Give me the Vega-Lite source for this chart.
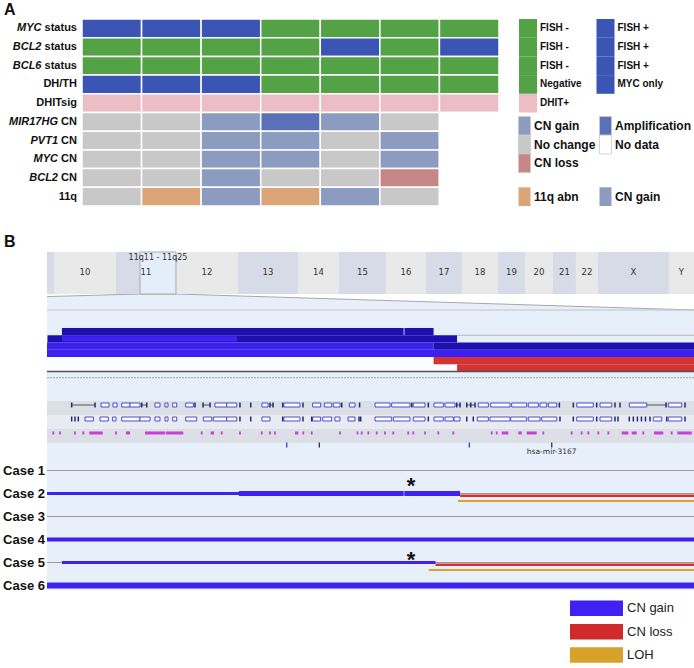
{
"$schema": "https://vega.github.io/schema/vega-lite/v6.json",
"width": 694, "height": 668,
"autosize": {"type": "fit", "contains": "padding"},
"padding": 0,
"background": "#ffffff",
"config": {"view": {"stroke": null}, "text": {"font": "Liberation Sans"}},
"resolve": {"scale": {"x": "independent", "y": "independent", "color": "independent", "size": "independent"}},
"datasets": {
"cells": [
{"row":"MYC status","case":"1","status":"FISH +"},{"row":"MYC status","case":"2","status":"FISH +"},{"row":"MYC status","case":"3","status":"FISH +"},{"row":"MYC status","case":"4","status":"FISH -"},{"row":"MYC status","case":"5","status":"FISH -"},{"row":"MYC status","case":"6","status":"FISH -"},{"row":"MYC status","case":"7","status":"FISH -"},
{"row":"BCL2 status","case":"1","status":"FISH -"},{"row":"BCL2 status","case":"2","status":"FISH -"},{"row":"BCL2 status","case":"3","status":"FISH -"},{"row":"BCL2 status","case":"4","status":"FISH -"},{"row":"BCL2 status","case":"5","status":"FISH +"},{"row":"BCL2 status","case":"6","status":"FISH -"},{"row":"BCL2 status","case":"7","status":"FISH +"},
{"row":"BCL6 status","case":"1","status":"FISH -"},{"row":"BCL6 status","case":"2","status":"FISH -"},{"row":"BCL6 status","case":"3","status":"FISH -"},{"row":"BCL6 status","case":"4","status":"FISH -"},{"row":"BCL6 status","case":"5","status":"FISH -"},{"row":"BCL6 status","case":"6","status":"FISH -"},{"row":"BCL6 status","case":"7","status":"FISH -"},
{"row":"DH/TH","case":"1","status":"MYC only"},{"row":"DH/TH","case":"2","status":"MYC only"},{"row":"DH/TH","case":"3","status":"MYC only"},{"row":"DH/TH","case":"4","status":"Negative"},{"row":"DH/TH","case":"5","status":"Negative"},{"row":"DH/TH","case":"6","status":"Negative"},{"row":"DH/TH","case":"7","status":"Negative"},
{"row":"DHITsig","case":"1","status":"DHIT+"},{"row":"DHITsig","case":"2","status":"DHIT+"},{"row":"DHITsig","case":"3","status":"DHIT+"},{"row":"DHITsig","case":"4","status":"DHIT+"},{"row":"DHITsig","case":"5","status":"DHIT+"},{"row":"DHITsig","case":"6","status":"DHIT+"},{"row":"DHITsig","case":"7","status":"DHIT+"},
{"row":"MIR17HG CN","case":"1","status":"No change"},{"row":"MIR17HG CN","case":"2","status":"No change"},{"row":"MIR17HG CN","case":"3","status":"CN gain"},{"row":"MIR17HG CN","case":"4","status":"Amplification"},{"row":"MIR17HG CN","case":"5","status":"CN gain"},{"row":"MIR17HG CN","case":"6","status":"No change"},{"row":"MIR17HG CN","case":"7","status":"No data"},
{"row":"PVT1 CN","case":"1","status":"No change"},{"row":"PVT1 CN","case":"2","status":"No change"},{"row":"PVT1 CN","case":"3","status":"CN gain"},{"row":"PVT1 CN","case":"4","status":"CN gain"},{"row":"PVT1 CN","case":"5","status":"No change"},{"row":"PVT1 CN","case":"6","status":"CN gain"},{"row":"PVT1 CN","case":"7","status":"No data"},
{"row":"MYC CN","case":"1","status":"No change"},{"row":"MYC CN","case":"2","status":"No change"},{"row":"MYC CN","case":"3","status":"CN gain"},{"row":"MYC CN","case":"4","status":"CN gain"},{"row":"MYC CN","case":"5","status":"No change"},{"row":"MYC CN","case":"6","status":"CN gain"},{"row":"MYC CN","case":"7","status":"No data"},
{"row":"BCL2 CN","case":"1","status":"No change"},{"row":"BCL2 CN","case":"2","status":"No change"},{"row":"BCL2 CN","case":"3","status":"CN gain"},{"row":"BCL2 CN","case":"4","status":"No change"},{"row":"BCL2 CN","case":"5","status":"No change"},{"row":"BCL2 CN","case":"6","status":"CN loss"},{"row":"BCL2 CN","case":"7","status":"No data"},
{"row":"11q","case":"1","status":"No change"},{"row":"11q","case":"2","status":"11q abn"},{"row":"11q","case":"3","status":"CN gain"},{"row":"11q","case":"4","status":"11q abn"},{"row":"11q","case":"5","status":"CN gain"},{"row":"11q","case":"6","status":"No change"},{"row":"11q","case":"7","status":"No data"}
],
"rowlabels": [
{"row":"MYC status","gene":"MYC","suffix":"status"},{"row":"BCL2 status","gene":"BCL2","suffix":"status"},{"row":"BCL6 status","gene":"BCL6","suffix":"status"},{"row":"DH/TH","gene":"","suffix":"DH/TH"},{"row":"DHITsig","gene":"","suffix":"DHITsig"},{"row":"MIR17HG CN","gene":"MIR17HG","suffix":"CN"},{"row":"PVT1 CN","gene":"PVT1","suffix":"CN"},{"row":"MYC CN","gene":"MYC","suffix":"CN"},{"row":"BCL2 CN","gene":"BCL2","suffix":"CN"},{"row":"11q","gene":"","suffix":"11q"}
],
"legA": [
{"row":"MYC status","side":"left","label":"FISH -","status":"FISH -","grp":"fish"},{"row":"MYC status","side":"right","label":"FISH +","status":"FISH +","grp":"fish"},
{"row":"BCL2 status","side":"left","label":"FISH -","status":"FISH -","grp":"fish"},{"row":"BCL2 status","side":"right","label":"FISH +","status":"FISH +","grp":"fish"},
{"row":"BCL6 status","side":"left","label":"FISH -","status":"FISH -","grp":"fish"},{"row":"BCL6 status","side":"right","label":"FISH +","status":"FISH +","grp":"fish"},
{"row":"DH/TH","side":"left","label":"Negative","status":"Negative","grp":"fish"},{"row":"DH/TH","side":"right","label":"MYC only","status":"MYC only","grp":"fish"},
{"row":"DHITsig","side":"left","label":"DHIT+","status":"DHIT+","grp":"fish"},
{"row":"MIR17HG CN","side":"left","label":"CN gain","status":"CN gain","grp":"cn"},{"row":"MIR17HG CN","side":"right","label":"Amplification","status":"Amplification","grp":"cn"},
{"row":"PVT1 CN","side":"left","label":"No change","status":"No change","grp":"cn"},{"row":"PVT1 CN","side":"right","label":"No data","status":"No data","grp":"cn"},
{"row":"MYC CN","side":"left","label":"CN loss","status":"CN loss","grp":"cn"},
{"row":"11q","side":"left","label":"11q abn","status":"11q abn","grp":"q11"},{"row":"11q","side":"right","label":"CN gain","status":"CN gain","grp":"q11"}
],
"chroms": [
{"chrom":"9","start":0,"end":15.4,"tone":"b"},{"chrom":"10","start":15.4,"end":151.9,"tone":"a"},{"chrom":"11","start":151.9,"end":283.9,"tone":"b"},{"chrom":"12","start":283.9,"end":420.3,"tone":"a"},{"chrom":"13","start":420.3,"end":552.4,"tone":"b"},{"chrom":"14","start":552.4,"end":642.6,"tone":"a"},{"chrom":"15","start":642.6,"end":746.0,"tone":"b"},{"chrom":"16","start":746.0,"end":834.1,"tone":"a"},{"chrom":"17","start":834.1,"end":913.3,"tone":"b"},{"chrom":"18","start":913.3,"end":992.5,"tone":"a"},{"chrom":"19","start":992.5,"end":1051.9,"tone":"b"},{"chrom":"20","start":1051.9,"end":1113.6,"tone":"a"},{"chrom":"21","start":1113.6,"end":1164.2,"tone":"b"},{"chrom":"22","start":1164.2,"end":1212.6,"tone":"a"},{"chrom":"X","start":1212.6,"end":1368.8,"tone":"b"},{"chrom":"Y","start":1368.8,"end":1424,"tone":"a"}
],
"selection": [{"name":"11q11 - 11q25","start":204.7,"end":283.9}],
"funnel": [{"gpos":0,"edge":0.16},{"gpos":204.7,"edge":0},{"gpos":283.9,"edge":0},{"gpos":1424,"edge":1}],
"zoomview": [{"view":"11q11-11q25","start":55,"end":135}],
"freq": [
{"case":"Case 6","start":55,"end":135,"lo":0,"hi":1,"tone":"bright"},
{"case":"Case 4","start":55,"end":102.8,"lo":1,"hi":2,"tone":"bright"},
{"case":"Case 4","start":102.8,"end":135,"lo":1,"hi":2,"tone":"dark"},
{"case":"Case 2","start":55.06,"end":105.7,"lo":2,"hi":3,"tone":"dark"},
{"case":"Case 2","start":56.85,"end":78.49,"lo":2.15,"hi":2.85,"tone":"bright"},
{"case":"Case 5","start":56.85,"end":99.1,"lo":3,"hi":4,"tone":"dark"},
{"case":"Case 5","start":99.2,"end":102.8,"lo":3,"hi":4,"tone":"dark"},
{"case":"Case 5","start":102.8,"end":135,"lo":0,"hi":-1,"tone":"loss"},
{"case":"Case 2","start":105.7,"end":135,"lo":-1,"hi":-2,"tone":"loss"}
],
"genebg": [{"track":"RefSeq","shade":"dark"},{"track":"Ensembl","shade":"light"},{"track":"CNV","shade":"dark"}],
"genes": [
{"track":"RefSeq","kind":"intron","start":58.05,"end":60.94},{"track":"RefSeq","kind":"tick","start":58.05},{"track":"RefSeq","kind":"tick","start":60.94},
{"track":"RefSeq","kind":"box","start":61.68,"end":62.67},{"track":"RefSeq","kind":"box","start":63.16,"end":63.66},{"track":"RefSeq","kind":"box","start":64.24,"end":65.26},{"track":"RefSeq","kind":"box","start":65.26,"end":66.5},
{"track":"RefSeq","kind":"tick","start":66.71},{"track":"RefSeq","kind":"intron","start":66.71,"end":67.33},{"track":"RefSeq","kind":"tick","start":67.33},
{"track":"RefSeq","kind":"box","start":68.35,"end":68.97},{"track":"RefSeq","kind":"box","start":69.59,"end":69.96},{"track":"RefSeq","kind":"box","start":70.54,"end":71.04},{"track":"RefSeq","kind":"box","start":72.15,"end":73.09},{"track":"RefSeq","kind":"tick","start":73.3},
{"track":"RefSeq","kind":"tick","start":74.29},{"track":"RefSeq","kind":"intron","start":74.29,"end":75.16},{"track":"RefSeq","kind":"tick","start":75.16},
{"track":"RefSeq","kind":"box","start":75.77,"end":77.22},{"track":"RefSeq","kind":"box","start":77.22,"end":78.46},{"track":"RefSeq","kind":"tick","start":78.86},{"track":"RefSeq","kind":"tick","start":80.19},
{"track":"RefSeq","kind":"box","start":81.58,"end":82.33},{"track":"RefSeq","kind":"tick","start":82.57},{"track":"RefSeq","kind":"intron","start":82.57,"end":82.95},{"track":"RefSeq","kind":"tick","start":82.95},
{"track":"RefSeq","kind":"tick","start":84.14},{"track":"RefSeq","kind":"box","start":84.3,"end":86.28},{"track":"RefSeq","kind":"tick","start":86.65},
{"track":"RefSeq","kind":"box","start":87.85,"end":88.84},{"track":"RefSeq","kind":"box","start":89.29,"end":90.2},{"track":"RefSeq","kind":"box","start":90.4,"end":91.23},{"track":"RefSeq","kind":"tick","start":91.44},
{"track":"RefSeq","kind":"box","start":92.38,"end":93.08},{"track":"RefSeq","kind":"tick","start":93.65},
{"track":"RefSeq","kind":"box","start":95.56,"end":97.41},{"track":"RefSeq","kind":"box","start":97.62,"end":99.88},{"track":"RefSeq","kind":"tick","start":100.1},{"track":"RefSeq","kind":"box","start":100.29,"end":101.74},{"track":"RefSeq","kind":"tick","start":102.15},
{"track":"RefSeq","kind":"box","start":102.85,"end":104.0},{"track":"RefSeq","kind":"box","start":104.21,"end":105.45},{"track":"RefSeq","kind":"tick","start":105.66},{"track":"RefSeq","kind":"intron","start":105.66,"end":106.07},{"track":"RefSeq","kind":"tick","start":106.07},
{"track":"RefSeq","kind":"tick","start":106.9},{"track":"RefSeq","kind":"intron","start":106.9,"end":107.92},{"track":"RefSeq","kind":"tick","start":107.4},{"track":"RefSeq","kind":"tick","start":107.92},
{"track":"RefSeq","kind":"box","start":108.33,"end":109.57},{"track":"RefSeq","kind":"box","start":109.86,"end":112.25},{"track":"RefSeq","kind":"box","start":112.46,"end":114.31},{"track":"RefSeq","kind":"box","start":114.51,"end":115.75},{"track":"RefSeq","kind":"box","start":115.96,"end":116.79},{"track":"RefSeq","kind":"box","start":116.99,"end":118.03},{"track":"RefSeq","kind":"tick","start":118.35},
{"track":"RefSeq","kind":"tick","start":120.08},{"track":"RefSeq","kind":"box","start":120.5,"end":122.55},{"track":"RefSeq","kind":"tick","start":122.97},{"track":"RefSeq","kind":"box","start":123.38,"end":124.83},{"track":"RefSeq","kind":"tick","start":125.23},{"track":"RefSeq","kind":"tick","start":125.85},
{"track":"RefSeq","kind":"box","start":127.0,"end":129.15},{"track":"RefSeq","kind":"intron","start":129.15,"end":131.54},{"track":"RefSeq","kind":"tick","start":131.54},{"track":"RefSeq","kind":"box","start":131.82,"end":133.48},{"track":"RefSeq","kind":"tick","start":133.89},
{"track":"Ensembl","kind":"tick","start":58.05},{"track":"Ensembl","kind":"tick","start":58.46},{"track":"Ensembl","kind":"tick","start":58.87},{"track":"Ensembl","kind":"box","start":59.7,"end":60.73},
{"track":"Ensembl","kind":"box","start":61.55,"end":62.58},{"track":"Ensembl","kind":"box","start":63.12,"end":63.53},{"track":"Ensembl","kind":"box","start":64.24,"end":66.5},{"track":"Ensembl","kind":"box","start":66.5,"end":67.74},
{"track":"Ensembl","kind":"box","start":68.35,"end":68.97},{"track":"Ensembl","kind":"box","start":69.59,"end":69.96},{"track":"Ensembl","kind":"box","start":70.54,"end":71.04},{"track":"Ensembl","kind":"box","start":72.15,"end":73.51},{"track":"Ensembl","kind":"box","start":74.33,"end":75.37},
{"track":"Ensembl","kind":"box","start":75.56,"end":77.22},{"track":"Ensembl","kind":"box","start":77.22,"end":78.46},{"track":"Ensembl","kind":"tick","start":78.86},{"track":"Ensembl","kind":"tick","start":80.19},{"track":"Ensembl","kind":"box","start":81.58,"end":82.57},
{"track":"Ensembl","kind":"tick","start":84.14},{"track":"Ensembl","kind":"box","start":84.3,"end":86.28},{"track":"Ensembl","kind":"tick","start":86.65},{"track":"Ensembl","kind":"tick","start":87.73},{"track":"Ensembl","kind":"box","start":87.85,"end":88.84},{"track":"Ensembl","kind":"box","start":89.1,"end":90.2},{"track":"Ensembl","kind":"box","start":90.6,"end":91.23},
{"track":"Ensembl","kind":"box","start":92.22,"end":93.08},{"track":"Ensembl","kind":"tick","start":93.58},{"track":"Ensembl","kind":"tick","start":93.79},
{"track":"Ensembl","kind":"box","start":95.56,"end":97.62},{"track":"Ensembl","kind":"box","start":97.82,"end":99.88},{"track":"Ensembl","kind":"box","start":100.29,"end":101.74},{"track":"Ensembl","kind":"tick","start":102.15},
{"track":"Ensembl","kind":"box","start":102.85,"end":104.0},{"track":"Ensembl","kind":"box","start":104.21,"end":105.24},{"track":"Ensembl","kind":"box","start":105.33,"end":106.07},
{"track":"Ensembl","kind":"tick","start":106.9},{"track":"Ensembl","kind":"tick","start":107.71},{"track":"Ensembl","kind":"box","start":108.21,"end":109.57},{"track":"Ensembl","kind":"box","start":109.78,"end":112.25},{"track":"Ensembl","kind":"box","start":112.34,"end":114.31},{"track":"Ensembl","kind":"box","start":114.51,"end":115.96},{"track":"Ensembl","kind":"box","start":116.17,"end":118.03},{"track":"Ensembl","kind":"tick","start":118.43},
{"track":"Ensembl","kind":"tick","start":120.08},{"track":"Ensembl","kind":"box","start":120.5,"end":122.55},{"track":"Ensembl","kind":"tick","start":122.97},{"track":"Ensembl","kind":"box","start":123.38,"end":124.83},{"track":"Ensembl","kind":"tick","start":125.23},{"track":"Ensembl","kind":"tick","start":125.6},
{"track":"Ensembl","kind":"tick","start":127.0},{"track":"Ensembl","kind":"tick","start":127.5},{"track":"Ensembl","kind":"tick","start":128.0},{"track":"Ensembl","kind":"tick","start":128.5},{"track":"Ensembl","kind":"tick","start":129.0},{"track":"Ensembl","kind":"tick","start":129.56},
{"track":"Ensembl","kind":"box","start":129.97,"end":131.01},{"track":"Ensembl","kind":"tick","start":131.63},{"track":"Ensembl","kind":"box","start":131.82,"end":133.48},{"track":"Ensembl","kind":"tick","start":133.89},
{"track":"CNV","kind":"dot","start":55.78},{"track":"CNV","kind":"dot","start":56.61},{"track":"CNV","kind":"dot","start":58.46},{"track":"CNV","kind":"dot","start":59.49},{"track":"CNV","kind":"seg","start":60.23,"end":61.89},{"track":"CNV","kind":"dot","start":63.53},{"track":"CNV","kind":"seg","start":64.77,"end":65.26},
{"track":"CNV","kind":"seg","start":67.12,"end":69.6},{"track":"CNV","kind":"seg","start":69.7,"end":71.85},{"track":"CNV","kind":"dot","start":74.13},{"track":"CNV","kind":"seg","start":75.24,"end":75.65},{"track":"CNV","kind":"dot","start":76.6},{"track":"CNV","kind":"dot","start":78.86},
{"track":"CNV","kind":"dot","start":81.55},{"track":"CNV","kind":"dot","start":82.57},{"track":"CNV","kind":"dot","start":83.19},{"track":"CNV","kind":"seg","start":85.67,"end":86.07},{"track":"CNV","kind":"dot","start":86.69},{"track":"CNV","kind":"dot","start":87.73},{"track":"CNV","kind":"dot","start":91.23},
{"track":"CNV","kind":"seg","start":93.29,"end":93.5},{"track":"CNV","kind":"dot","start":93.91},{"track":"CNV","kind":"dot","start":94.73},{"track":"CNV","kind":"dot","start":95.77},{"track":"CNV","kind":"dot","start":96.79},{"track":"CNV","kind":"dot","start":97.82},{"track":"CNV","kind":"dot","start":99.67},{"track":"CNV","kind":"dot","start":100.29},{"track":"CNV","kind":"dot","start":101.74},{"track":"CNV","kind":"dot","start":103.38},{"track":"CNV","kind":"dot","start":105.24},
{"track":"CNV","kind":"dot","start":109.99},{"track":"CNV","kind":"dot","start":110.61},{"track":"CNV","kind":"seg","start":111.23,"end":112.04},{"track":"CNV","kind":"seg","start":113.28,"end":113.7},{"track":"CNV","kind":"seg","start":114.31,"end":115.55},{"track":"CNV","kind":"dot","start":116.37},
{"track":"CNV","kind":"dot","start":119.88},{"track":"CNV","kind":"dot","start":121.11},{"track":"CNV","kind":"dot","start":121.93},{"track":"CNV","kind":"dot","start":123.17},{"track":"CNV","kind":"dot","start":124.41},{"track":"CNV","kind":"seg","start":126.06,"end":126.88},{"track":"CNV","kind":"seg","start":127.3,"end":127.92},{"track":"CNV","kind":"dot","start":128.73},{"track":"CNV","kind":"seg","start":130.06,"end":131.2},{"track":"CNV","kind":"dot","start":132.24},{"track":"CNV","kind":"seg","start":132.94,"end":134.72}
],
"mirna": [{"track":"miRNA","pos":84.64,"kind":"blue","name":""},{"track":"miRNA","pos":88.67,"kind":"dark","name":""},{"track":"miRNA","pos":107.22,"kind":"blue","name":""},{"track":"miRNA","pos":117.41,"kind":"dark","name":"hsa-mir-3167"}],
"cases": [{"case":"Case 1"},{"case":"Case 2"},{"case":"Case 3"},{"case":"Case 4"},{"case":"Case 5"},{"case":"Case 6"}],
"segments": [
{"case":"Case 2","type":"gain","start":55.0,"end":78.74,"copies":3},
{"case":"Case 2","type":"gain","start":78.74,"end":99.1,"copies":5},
{"case":"Case 2","type":"gain","start":99.18,"end":106.07,"copies":5},
{"case":"Case 2","type":"loss","start":106.07,"end":135},
{"case":"Case 2","type":"LOH","start":105.8,"end":135},
{"case":"Case 4","type":"gain","start":55,"end":135,"copies":4},
{"case":"Case 5","type":"gain","start":56.85,"end":103.04,"copies":3},
{"case":"Case 5","type":"loss","start":103.04,"end":135},
{"case":"Case 5","type":"LOH","start":102.2,"end":135},
{"case":"Case 6","type":"gain","start":55,"end":135,"copies":6}
],
"asterisks": [{"case":"Case 2","pos":100.0},{"case":"Case 5","pos":100.0}],
"legB": [{"item":"CN gain"},{"item":"CN loss"},{"item":"LOH"}],
"panels": [{"panel":"A"},{"panel":"B"}]
},
"layer": [
{"data":{"name":"zoomview"},"mark":{"type":"rect","fill":"#e7effa"},
 "encoding":{"x":{"field":"start","type":"quantitative","scale":{"domain":[55,135],"range":[47,694],"nice":false},"axis":null},"x2":{"field":"end"},
 "y":{"field":"view","type":"nominal","scale":{"type":"band","domain":["11q11-11q25"],"range":[310,590],"paddingInner":0,"paddingOuter":0},"axis":null}}},
{"data":{"name":"funnel"},"mark":{"type":"area","fill":"#e7effa"},
 "encoding":{"x":{"field":"gpos","type":"quantitative","scale":{"domain":[0,1424],"range":[47,694],"nice":false},"axis":null},
 "y":{"field":"edge","type":"quantitative","scale":{"domain":[0,1],"range":[294,310],"nice":false},"axis":null},"y2":{"datum":1}}},
{"data":{"name":"funnel"},"mark":{"type":"line","stroke":"#a8a8a8","strokeWidth":1},
 "encoding":{"x":{"field":"gpos","type":"quantitative","scale":{"domain":[0,1424],"range":[47,694],"nice":false},"axis":null},
 "y":{"field":"edge","type":"quantitative","scale":{"domain":[0,1],"range":[294,310],"nice":false},"axis":null}}},
{"data":{"values":[{}]},"mark":{"type":"rule","stroke":"#c4c4c4","strokeWidth":1},
 "encoding":{"x":{"datum":0,"type":"quantitative","scale":{"domain":[0,1424],"range":[47,694],"nice":false},"axis":null},"x2":{"datum":1424},
 "y":{"datum":1,"type":"quantitative","scale":{"domain":[0,1],"range":[294,310],"nice":false},"axis":null}}},
{"data":{"name":"chroms"},"mark":{"type":"rect"},
 "encoding":{"x":{"field":"start","type":"quantitative","scale":{"domain":[0,1424],"range":[47,694],"nice":false},"axis":null},"x2":{"field":"end"},
 "y":{"datum":"genome","type":"nominal","scale":{"type":"band","domain":["genome"],"range":[252,294],"paddingInner":0,"paddingOuter":0},"axis":null},
 "color":{"field":"tone","type":"nominal","scale":{"domain":["a","b"],"range":["#e9e9e9","#d6dbe7"]},"legend":null}}},
{"data":{"name":"selection"},"mark":{"type":"rect","fill":"#e4eefb","stroke":"#aaaaaa","strokeWidth":1},
 "encoding":{"x":{"field":"start","type":"quantitative","scale":{"domain":[0,1424],"range":[47,694],"nice":false},"axis":null},"x2":{"field":"end"},
 "y":{"datum":"genome","type":"nominal","scale":{"type":"band","domain":["genome"],"range":[252,294],"paddingInner":0,"paddingOuter":0},"axis":null}}},
{"data":{"name":"chroms"},"transform":[{"filter":"datum.chrom != '9'"},{"fold":["start","end"],"as":["edge","pos"]}],
 "mark":{"type":"text","font":"DejaVu Sans","fontSize":8.5,"fill":"#333333","baseline":"middle","align":"center","dy":-1},
 "encoding":{"x":{"aggregate":"mean","field":"pos","type":"quantitative","scale":{"domain":[0,1424],"range":[47,694],"nice":false},"axis":null},
 "y":{"datum":"genome","type":"nominal","scale":{"type":"band","domain":["genome"],"range":[252,294],"paddingInner":0,"paddingOuter":0},"axis":null},
 "text":{"field":"chrom","type":"nominal"}}},
{"data":{"name":"selection"},"transform":[{"fold":["start","end"],"as":["edge","pos"]}],
 "mark":{"type":"text","font":"DejaVu Sans","fontSize":8,"fill":"#333333","baseline":"middle","align":"center","dy":-15},
 "encoding":{"x":{"aggregate":"mean","field":"pos","type":"quantitative","scale":{"domain":[0,1424],"range":[47,694],"nice":false},"axis":null},
 "y":{"datum":"genome","type":"nominal","scale":{"type":"band","domain":["genome"],"range":[252,294],"paddingInner":0,"paddingOuter":0},"axis":null},
 "text":{"field":"name","type":"nominal"}}},
{"data":{"values":[{}]},"mark":{"type":"rect","fill":"#fafcff"},
 "encoding":{"x":{"datum":55,"type":"quantitative","scale":{"domain":[55,135],"range":[47,694],"nice":false},"axis":null},"x2":{"datum":135},
 "y":{"datum":0,"type":"quantitative","scale":{"domain":[-2,4],"range":[371.5,328],"nice":false},"axis":null},"y2":{"datum":-2}}},
{"data":{"name":"freq"},"mark":{"type":"rect"},
 "encoding":{"x":{"field":"start","type":"quantitative","scale":{"domain":[55,135],"range":[47,694],"nice":false},"axis":null},"x2":{"field":"end"},
 "y":{"field":"lo","type":"quantitative","scale":{"domain":[-2,4],"range":[371.5,328],"nice":false},"axis":null},"y2":{"field":"hi"},
 "color":{"field":"tone","type":"nominal","scale":{"domain":["bright","dark","loss"],"range":["#3b22f0","#1e10b0","#d33333"]},"legend":null}}},
{"data":{"values":[{}]},"mark":{"type":"rule","stroke":"#b5b5b5","strokeWidth":1},
 "encoding":{"x":{"datum":105.7,"type":"quantitative","scale":{"domain":[55,135],"range":[47,694],"nice":false},"axis":null},"x2":{"datum":135},
 "y":{"datum":3,"type":"quantitative","scale":{"domain":[-2,4],"range":[371.5,328],"nice":false},"axis":null}}},
{"data":{"values":[{}]},"mark":{"type":"rule","stroke":"#505050","strokeWidth":1.6},
 "encoding":{"x":{"datum":55,"type":"quantitative","scale":{"domain":[55,135],"range":[47,694],"nice":false},"axis":null},"x2":{"datum":135},
 "y":{"datum":-2,"type":"quantitative","scale":{"domain":[-2,4],"range":[371.5,328],"nice":false},"axis":null}}},
{"data":{"values":[{}]},"mark":{"type":"rule","stroke":"#a0a0a0","strokeWidth":1,"strokeDash":[2,1]},
 "encoding":{"x":{"datum":55,"type":"quantitative","scale":{"domain":[55,135],"range":[47,694],"nice":false},"axis":null},"x2":{"datum":135},
 "y":{"datum":-2.86,"type":"quantitative","scale":{"domain":[-2,4],"range":[371.5,328],"nice":false},"axis":null}}},
{"data":{"name":"genebg"},"mark":{"type":"rect"},
 "encoding":{"x":{"datum":55,"type":"quantitative","scale":{"domain":[55,135],"range":[47,694],"nice":false},"axis":null},"x2":{"datum":135},
 "y":{"field":"track","type":"nominal","scale":{"type":"band","domain":["RefSeq","Ensembl","CNV"],"range":[401,443],"paddingInner":0,"paddingOuter":0},"axis":null},
 "color":{"field":"shade","type":"nominal","scale":{"domain":["dark","light"],"range":["#dcdfe5","#e8ecf2"]},"legend":null}}},
{"data":{"name":"genes"},"transform":[{"filter":"datum.kind == 'intron'"}],"mark":{"type":"rule","stroke":"#555555","strokeWidth":1},
 "encoding":{"x":{"field":"start","type":"quantitative","scale":{"domain":[55,135],"range":[47,694],"nice":false},"axis":null},"x2":{"field":"end"},
 "y":{"field":"track","type":"nominal","scale":{"type":"band","domain":["RefSeq","Ensembl","CNV"],"range":[398,440],"paddingInner":0,"paddingOuter":0},"axis":null}}},
{"data":{"name":"genes"},"transform":[{"filter":"datum.kind == 'box'"}],"mark":{"type":"bar","height":4,"fill":"#ffffff","stroke":"#4a4ad4","strokeWidth":1},
 "encoding":{"x":{"field":"start","type":"quantitative","scale":{"domain":[55,135],"range":[47,694],"nice":false},"axis":null},"x2":{"field":"end"},
 "y":{"field":"track","type":"nominal","scale":{"type":"band","domain":["RefSeq","Ensembl","CNV"],"range":[398,440],"paddingInner":0,"paddingOuter":0},"axis":null}}},
{"data":{"name":"genes"},"transform":[{"filter":"datum.kind == 'tick'"}],"mark":{"type":"tick","size":5,"thickness":1.5,"color":"#27277a","opacity":1},
 "encoding":{"x":{"field":"start","type":"quantitative","scale":{"domain":[55,135],"range":[47,694],"nice":false},"axis":null},
 "y":{"field":"track","type":"nominal","scale":{"type":"band","domain":["RefSeq","Ensembl","CNV"],"range":[398,440],"paddingInner":0,"paddingOuter":0},"axis":null}}},
{"data":{"name":"genes"},"transform":[{"filter":"datum.kind == 'seg'"}],"mark":{"type":"bar","height":3,"fill":"#c93fd8"},
 "encoding":{"x":{"field":"start","type":"quantitative","scale":{"domain":[55,135],"range":[47,694],"nice":false},"axis":null},"x2":{"field":"end"},
 "y":{"field":"track","type":"nominal","scale":{"type":"band","domain":["RefSeq","Ensembl","CNV"],"range":[398,440],"paddingInner":0,"paddingOuter":0},"axis":null}}},
{"data":{"name":"genes"},"transform":[{"filter":"datum.kind == 'dot'"}],"mark":{"type":"tick","size":3,"thickness":1.8,"color":"#c93fd8","opacity":1},
 "encoding":{"x":{"field":"start","type":"quantitative","scale":{"domain":[55,135],"range":[47,694],"nice":false},"axis":null},
 "y":{"field":"track","type":"nominal","scale":{"type":"band","domain":["RefSeq","Ensembl","CNV"],"range":[398,440],"paddingInner":0,"paddingOuter":0},"axis":null}}},
{"data":{"name":"mirna"},"mark":{"type":"tick","size":5,"thickness":1.3,"opacity":1},
 "encoding":{"x":{"field":"pos","type":"quantitative","scale":{"domain":[55,135],"range":[47,694],"nice":false},"axis":null},
 "y":{"field":"track","type":"nominal","scale":{"type":"band","domain":["miRNA"],"range":[440,450],"paddingInner":0,"paddingOuter":0},"axis":null},
 "color":{"field":"kind","type":"nominal","scale":{"domain":["blue","dark"],"range":["#3a3ad0","#333333"]},"legend":null}}},
{"data":{"name":"mirna"},"transform":[{"filter":"datum.name != ''"}],"mark":{"type":"text","font":"DejaVu Sans","fontSize":7.5,"fill":"#333333","baseline":"middle","align":"center"},
 "encoding":{"x":{"field":"pos","type":"quantitative","scale":{"domain":[55,135],"range":[47,694],"nice":false},"axis":null},
 "y":{"field":"track","type":"nominal","scale":{"type":"band","domain":["miRNA"],"range":[447,457],"paddingInner":0,"paddingOuter":0},"axis":null},
 "text":{"field":"name","type":"nominal"}}},
{"data":{"name":"cases"},"mark":{"type":"rule","stroke":"#9a9a9a","strokeWidth":1},
 "encoding":{"x":{"datum":55,"type":"quantitative","scale":{"domain":[55,135],"range":[47,694],"nice":false},"axis":null},"x2":{"datum":135},
 "y":{"field":"case","type":"nominal","scale":{"type":"point","domain":["Case 1","Case 2","Case 3","Case 4","Case 5","Case 6"],"range":[470.5,585.5],"padding":0},"axis":null}}},
{"data":{"name":"segments"},"transform":[{"filter":"datum.type == 'gain'"}],"mark":{"type":"rule","stroke":"#3d22f2","strokeCap":"butt"},
 "encoding":{"x":{"field":"start","type":"quantitative","scale":{"domain":[55,135],"range":[47,694],"nice":false},"axis":null},"x2":{"field":"end"},
 "y":{"field":"case","type":"nominal","scale":{"type":"point","domain":["Case 1","Case 2","Case 3","Case 4","Case 5","Case 6"],"range":[470.5,585.5],"padding":0},"axis":null},
 "size":{"field":"copies","type":"quantitative","scale":{"domain":[0,6],"range":[0,6]},"legend":null}}},
{"data":{"name":"segments"},"transform":[{"filter":"datum.type == 'loss'"}],"mark":{"type":"rule","stroke":"#d43232","strokeWidth":2.5,"strokeCap":"butt"},
 "encoding":{"x":{"field":"start","type":"quantitative","scale":{"domain":[55,135],"range":[47,694],"nice":false},"axis":null},"x2":{"field":"end"},
 "y":{"field":"case","type":"nominal","scale":{"type":"point","domain":["Case 1","Case 2","Case 3","Case 4","Case 5","Case 6"],"range":[472.8,587.8],"padding":0},"axis":null}}},
{"data":{"name":"segments"},"transform":[{"filter":"datum.type == 'LOH'"}],"mark":{"type":"rule","stroke":"#d9a62c","strokeWidth":2,"strokeCap":"butt"},
 "encoding":{"x":{"field":"start","type":"quantitative","scale":{"domain":[55,135],"range":[47,694],"nice":false},"axis":null},"x2":{"field":"end"},
 "y":{"field":"case","type":"nominal","scale":{"type":"point","domain":["Case 1","Case 2","Case 3","Case 4","Case 5","Case 6"],"range":[478,593],"padding":0},"axis":null}}},
{"data":{"name":"asterisks"},"mark":{"type":"text","text":"*","font":"Liberation Sans","fontWeight":"bold","fontSize":22,"fill":"#111111","baseline":"alphabetic","align":"center","dy":11.5},
 "encoding":{"x":{"field":"pos","type":"quantitative","scale":{"domain":[55,135],"range":[47,694],"nice":false},"axis":null},
 "y":{"field":"case","type":"nominal","scale":{"type":"point","domain":["Case 2","Case 5"],"range":[481,555],"padding":0},"axis":null}}},
{"data":{"name":"cases"},"mark":{"type":"text","font":"Liberation Sans","fontWeight":"bold","fontSize":13,"fill":"#111111","baseline":"middle","align":"right"},
 "encoding":{"x":{"field":"case","type":"nominal","scale":{"type":"point","range":[45,45]},"axis":null},
 "y":{"field":"case","type":"nominal","scale":{"type":"point","domain":["Case 1","Case 2","Case 3","Case 4","Case 5","Case 6"],"range":[470.5,585.5],"padding":0},"axis":null},
 "text":{"field":"case","type":"nominal"}}},
{"data":{"name":"cells"},"mark":{"type":"rect","stroke":"#ffffff","strokeWidth":1.5},
 "encoding":{"x":{"field":"case","type":"nominal","scale":{"type":"band","domain":["1","2","3","4","5","6","7"],"range":[82,499],"paddingInner":0,"paddingOuter":0},"axis":null},
 "y":{"field":"row","type":"nominal","scale":{"type":"band","domain":["MYC status","BCL2 status","BCL6 status","DH/TH","DHITsig","MIR17HG CN","PVT1 CN","MYC CN","BCL2 CN","11q"],"range":[19,206],"paddingInner":0,"paddingOuter":0},"axis":null},
 "color":{"field":"status","type":"nominal","scale":{"domain":["FISH +","FISH -","MYC only","Negative","DHIT+","No change","CN gain","Amplification","CN loss","11q abn","No data"],"range":["#3a55b3","#53a245","#3a55b3","#53a245","#ebbdc7","#c8c8c8","#8c9bc0","#5a71ba","#c68586","#dba577","#ffffff"]},"legend":null}}},
{"data":{"name":"rowlabels"},"mark":{"type":"text","font":"Liberation Sans","fontWeight":"bold","fontSize":11,"fill":"#111111","baseline":"middle","align":"right"},
 "encoding":{"x":{"field":"row","type":"nominal","scale":{"type":"point","range":[77,77]},"axis":null},
 "y":{"field":"row","type":"nominal","scale":{"type":"band","domain":["MYC status","BCL2 status","BCL6 status","DH/TH","DHITsig","MIR17HG CN","PVT1 CN","MYC CN","BCL2 CN","11q"],"range":[19,206],"paddingInner":0,"paddingOuter":0},"axis":null},
 "text":{"field":"suffix","type":"nominal"}}},
{"data":{"name":"rowlabels"},"transform":[{"filter":"datum.suffix == 'status'"}],"mark":{"type":"text","font":"Liberation Sans","fontWeight":"bold","fontStyle":"italic","fontSize":11,"fill":"#111111","baseline":"middle","align":"right","dx":-35.5},
 "encoding":{"x":{"field":"row","type":"nominal","scale":{"type":"point","range":[77,77]},"axis":null},
 "y":{"field":"row","type":"nominal","scale":{"type":"band","domain":["MYC status","BCL2 status","BCL6 status","DH/TH","DHITsig","MIR17HG CN","PVT1 CN","MYC CN","BCL2 CN","11q"],"range":[19,206],"paddingInner":0,"paddingOuter":0},"axis":null},
 "text":{"field":"gene","type":"nominal"}}},
{"data":{"name":"rowlabels"},"transform":[{"filter":"datum.suffix == 'CN'"}],"mark":{"type":"text","font":"Liberation Sans","fontWeight":"bold","fontStyle":"italic","fontSize":11,"fill":"#111111","baseline":"middle","align":"right","dx":-19},
 "encoding":{"x":{"field":"row","type":"nominal","scale":{"type":"point","range":[77,77]},"axis":null},
 "y":{"field":"row","type":"nominal","scale":{"type":"band","domain":["MYC status","BCL2 status","BCL6 status","DH/TH","DHITsig","MIR17HG CN","PVT1 CN","MYC CN","BCL2 CN","11q"],"range":[19,206],"paddingInner":0,"paddingOuter":0},"axis":null},
 "text":{"field":"gene","type":"nominal"}}},
{"data":{"name":"legA"},"transform":[{"filter":"datum.grp == 'fish'"}],"mark":{"type":"rect","width":18},
 "encoding":{"x":{"field":"side","type":"nominal","scale":{"type":"point","domain":["left","right"],"range":[528,605.5],"padding":0},"axis":null},
 "y":{"field":"row","type":"nominal","scale":{"type":"band","domain":["MYC status","BCL2 status","BCL6 status","DH/TH","DHITsig","MIR17HG CN","PVT1 CN","MYC CN","BCL2 CN","11q"],"range":[19,206],"paddingInner":0,"paddingOuter":0},"axis":null},
 "color":{"field":"status","type":"nominal","scale":{"domain":["FISH +","FISH -","MYC only","Negative","DHIT+","No change","CN gain","Amplification","CN loss","11q abn","No data"],"range":["#3a55b3","#53a245","#3a55b3","#53a245","#ebbdc7","#c8c8c8","#8c9bc0","#5a71ba","#c68586","#dba577","#ffffff"]},"legend":null}}},
{"data":{"name":"legA"},"transform":[{"filter":"datum.grp == 'fish'"}],"mark":{"type":"text","font":"Liberation Sans","fontWeight":"bold","fontSize":10,"fill":"#111111","baseline":"middle","align":"left","dx":12},
 "encoding":{"x":{"field":"side","type":"nominal","scale":{"type":"point","domain":["left","right"],"range":[528,605.5],"padding":0},"axis":null},
 "y":{"field":"row","type":"nominal","scale":{"type":"band","domain":["MYC status","BCL2 status","BCL6 status","DH/TH","DHITsig","MIR17HG CN","PVT1 CN","MYC CN","BCL2 CN","11q"],"range":[19,206],"paddingInner":0,"paddingOuter":0},"axis":null},
 "text":{"field":"label","type":"nominal"}}},
{"data":{"name":"legA"},"transform":[{"filter":"datum.grp == 'cn'"}],"mark":{"type":"rect","width":12,"stroke":"#cccccc","strokeWidth":0.8},
 "encoding":{"x":{"field":"side","type":"nominal","scale":{"type":"point","domain":["left","right"],"range":[524.5,605.5],"padding":0},"axis":null},
 "y":{"field":"row","type":"nominal","scale":{"type":"band","domain":["MYC status","BCL2 status","BCL6 status","DH/TH","DHITsig","MIR17HG CN","PVT1 CN","MYC CN","BCL2 CN","11q"],"range":[23,210],"paddingInner":0,"paddingOuter":0},"axis":null},
 "color":{"field":"status","type":"nominal","scale":{"domain":["FISH +","FISH -","MYC only","Negative","DHIT+","No change","CN gain","Amplification","CN loss","11q abn","No data"],"range":["#3a55b3","#53a245","#3a55b3","#53a245","#ebbdc7","#c8c8c8","#8c9bc0","#5a71ba","#c68586","#dba577","#ffffff"]},"legend":null}}},
{"data":{"name":"legA"},"transform":[{"filter":"datum.grp == 'cn'"}],"mark":{"type":"text","font":"Liberation Sans","fontWeight":"bold","fontSize":12,"fill":"#111111","baseline":"middle","align":"left","dx":9.5},
 "encoding":{"x":{"field":"side","type":"nominal","scale":{"type":"point","domain":["left","right"],"range":[524.5,605.5],"padding":0},"axis":null},
 "y":{"field":"row","type":"nominal","scale":{"type":"band","domain":["MYC status","BCL2 status","BCL6 status","DH/TH","DHITsig","MIR17HG CN","PVT1 CN","MYC CN","BCL2 CN","11q"],"range":[23,210],"paddingInner":0,"paddingOuter":0},"axis":null},
 "text":{"field":"label","type":"nominal"}}},
{"data":{"name":"legA"},"transform":[{"filter":"datum.grp == 'q11'"}],"mark":{"type":"rect","width":12},
 "encoding":{"x":{"field":"side","type":"nominal","scale":{"type":"point","domain":["left","right"],"range":[524.5,605.5],"padding":0},"axis":null},
 "y":{"field":"row","type":"nominal","scale":{"type":"band","domain":["MYC status","BCL2 status","BCL6 status","DH/TH","DHITsig","MIR17HG CN","PVT1 CN","MYC CN","BCL2 CN","11q"],"range":[19,206],"paddingInner":0,"paddingOuter":0},"axis":null},
 "color":{"field":"status","type":"nominal","scale":{"domain":["FISH +","FISH -","MYC only","Negative","DHIT+","No change","CN gain","Amplification","CN loss","11q abn","No data"],"range":["#3a55b3","#53a245","#3a55b3","#53a245","#ebbdc7","#c8c8c8","#8c9bc0","#5a71ba","#c68586","#dba577","#ffffff"]},"legend":null}}},
{"data":{"name":"legA"},"transform":[{"filter":"datum.grp == 'q11'"}],"mark":{"type":"text","font":"Liberation Sans","fontWeight":"bold","fontSize":12,"fill":"#111111","baseline":"middle","align":"left","dx":9.5},
 "encoding":{"x":{"field":"side","type":"nominal","scale":{"type":"point","domain":["left","right"],"range":[524.5,605.5],"padding":0},"axis":null},
 "y":{"field":"row","type":"nominal","scale":{"type":"band","domain":["MYC status","BCL2 status","BCL6 status","DH/TH","DHITsig","MIR17HG CN","PVT1 CN","MYC CN","BCL2 CN","11q"],"range":[19,206],"paddingInner":0,"paddingOuter":0},"axis":null},
 "text":{"field":"label","type":"nominal"}}},
{"data":{"name":"legB"},"mark":{"type":"rect","width":53,"height":15.5},
 "encoding":{"x":{"field":"item","type":"nominal","scale":{"type":"point","range":[596.5,596.5]},"axis":null},
 "y":{"field":"item","type":"nominal","scale":{"type":"band","domain":["CN gain","CN loss","LOH"],"range":[596.7,666.7],"paddingInner":0,"paddingOuter":0},"axis":null},
 "color":{"field":"item","type":"nominal","scale":{"domain":["CN gain","CN loss","LOH"],"range":["#3f20f5","#d12a2a","#d6a22b"]},"legend":null}}},
{"data":{"name":"legB"},"mark":{"type":"text","font":"Liberation Sans","fontSize":13,"fill":"#222222","baseline":"middle","align":"left","dx":30.5},
 "encoding":{"x":{"field":"item","type":"nominal","scale":{"type":"point","range":[596.5,596.5]},"axis":null},
 "y":{"field":"item","type":"nominal","scale":{"type":"band","domain":["CN gain","CN loss","LOH"],"range":[596.7,666.7],"paddingInner":0,"paddingOuter":0},"axis":null},
 "text":{"field":"item","type":"nominal"}}},
{"data":{"name":"panels"},"mark":{"type":"text","font":"Liberation Sans","fontWeight":"bold","fontSize":16,"fill":"#111111","baseline":"middle","align":"left"},
 "encoding":{"x":{"field":"panel","type":"nominal","scale":{"type":"point","range":[4,4]},"axis":null},
 "y":{"field":"panel","type":"nominal","scale":{"type":"point","domain":["A","B"],"range":[10,242],"padding":0},"axis":null},
 "text":{"field":"panel","type":"nominal"}}}
]
}
